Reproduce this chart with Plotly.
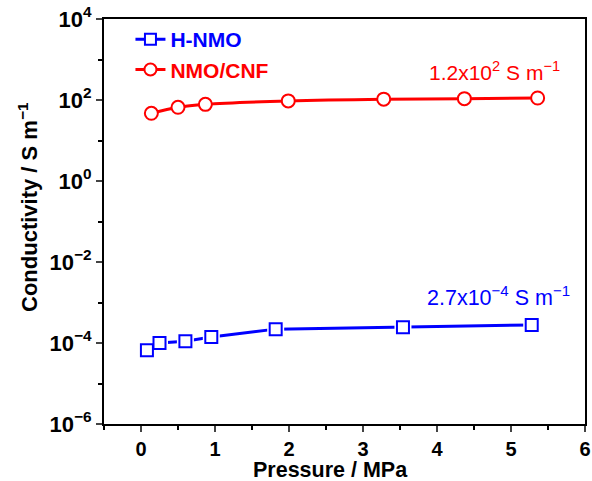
import plotly.graph_objects as go

# Data
h_nmo_pressure = [0.08, 0.25, 0.60, 0.95, 1.82, 3.54, 5.28]
h_nmo_cond = [6.6e-5, 1.0e-4, 1.1e-4, 1.4e-4, 2.2e-4, 2.45e-4, 2.8e-4]

cnf_pressure = [0.14, 0.50, 0.87, 1.99, 3.28, 4.37, 5.36]
cnf_cond = [47, 66, 78, 95, 105, 108, 112]

y_tickvals = [1e-6, 1e-4, 1e-2, 1e0, 1e2, 1e4]
y_ticktext = ["10<sup>−6</sup>", "10<sup>−4</sup>", "10<sup>−2</sup>", "10<sup>0</sup>", "10<sup>2</sup>", "10<sup>4</sup>"]
y_minorvals = [1e-5, 1e-3, 1e-1, 1e1, 1e3]
x_tickvals = [0, 1, 2, 3, 4, 5, 6]

BLUE = "#0000FF"
RED = "#FF0000"
FONT = "Liberation Sans, Arial, sans-serif"

fig = go.Figure()
# H-NMO: line with gaps around the symbols
fig.add_trace(go.Scatter(
    x=h_nmo_pressure, y=h_nmo_cond, mode="lines", showlegend=False,
    line=dict(color=BLUE, width=3), hoverinfo="skip",
))
fig.add_trace(go.Scatter(
    x=h_nmo_pressure, y=h_nmo_cond, mode="markers", showlegend=False,
    marker=dict(symbol="square", size=17, color="white", line=dict(width=0)), hoverinfo="skip",
))
fig.add_trace(go.Scatter(
    x=h_nmo_pressure, y=h_nmo_cond, mode="markers", showlegend=False,
    marker=dict(symbol="square", size=12, color="white", line=dict(width=2, color=BLUE)),
))
# NMO/CNF
fig.add_trace(go.Scatter(
    x=cnf_pressure, y=cnf_cond, mode="lines+markers", showlegend=False,
    line=dict(color=RED, width=3, shape="spline"),
    marker=dict(symbol="circle", size=13, color="white", line=dict(width=2, color=RED)),
))
# legend entries
fig.add_trace(go.Scatter(
    x=[None], y=[None], mode="lines+markers",
    name=f"<b><span style='color:{BLUE}'>H-NMO</span></b>",
    line=dict(color=BLUE, width=3),
    marker=dict(symbol="square", size=11, color="white", line=dict(width=2, color=BLUE)),
))
fig.add_trace(go.Scatter(
    x=[None], y=[None], mode="lines+markers",
    name=f"<b><span style='color:{RED}'>NMO/CNF</span></b>",
    line=dict(color=RED, width=3),
    marker=dict(symbol="circle", size=12, color="white", line=dict(width=2, color=RED)),
))

fig.add_annotation(x=4.78, y=2.72, xref="x", yref="y", text="1.2x10<sup>2</sup> S m<sup>−1</sup>",
                   showarrow=False, font=dict(family=FONT, size=21, color=RED))
fig.add_annotation(x=4.83, y=-2.83, xref="x", yref="y", text="2.7x10<sup>−4</sup> S m<sup>−1</sup>",
                   showarrow=False, font=dict(family=FONT, size=21.5, color=BLUE))

# axis titles
fig.add_annotation(x=(330 - 104) / 481, y=-(470 - 424) / 405, xref="paper", yref="paper",
                   text="<b>Pressure / MPa</b>", showarrow=False,
                   font=dict(family=FONT, size=21.5), xanchor="center", yanchor="middle")
fig.add_annotation(x=-(104 - 28) / 481, y=(424 - 207) / 405, xref="paper", yref="paper",
                   text="<b>Conductivity / S m<sup>−1</sup></b>", showarrow=False, textangle=-90,
                   font=dict(family=FONT, size=22), xanchor="center", yanchor="middle")

fig.update_layout(
    width=592, height=481,
    margin=dict(l=104, r=7, t=19, b=57, autoexpand=False),
    plot_bgcolor="white", paper_bgcolor="white",
    font=dict(family=FONT, color="black"),
    showlegend=True,
    legend=dict(x=0.055, y=1.0, xanchor="left", yanchor="top",
                bgcolor="rgba(0,0,0,0)", font=dict(family=FONT, size=21),
                tracegroupgap=0),
)
fig.update_xaxes(
    range=[-0.5, 6], tickvals=x_tickvals, ticks="outside", ticklen=6, tickwidth=2,
    showline=True, linecolor="black", linewidth=2, mirror=True, showgrid=False, zeroline=False,
    tickfont=dict(family=FONT, size=20), automargin=False,
    ticktext=[f"<b>{v}</b>" for v in x_tickvals],
    minor=dict(tickvals=[-0.5, 0.5, 1.5, 2.5, 3.5, 4.5, 5.5], ticks="outside", ticklen=4, tickwidth=2, tickcolor="black"),
)
fig.update_yaxes(
    type="log", range=[-6, 4], tickvals=y_tickvals,
    ticktext=[f"<b>{t}</b>" for t in y_ticktext],
    ticks="outside", ticklen=6, tickwidth=2, automargin=False,
    showline=True, linecolor="black", linewidth=2, mirror=True, showgrid=False, zeroline=False,
    tickfont=dict(family=FONT, size=22),
    minor=dict(tickvals=y_minorvals, ticks="outside", ticklen=4, tickwidth=2, tickcolor="black"),
)

fig.write_html("out.html")
